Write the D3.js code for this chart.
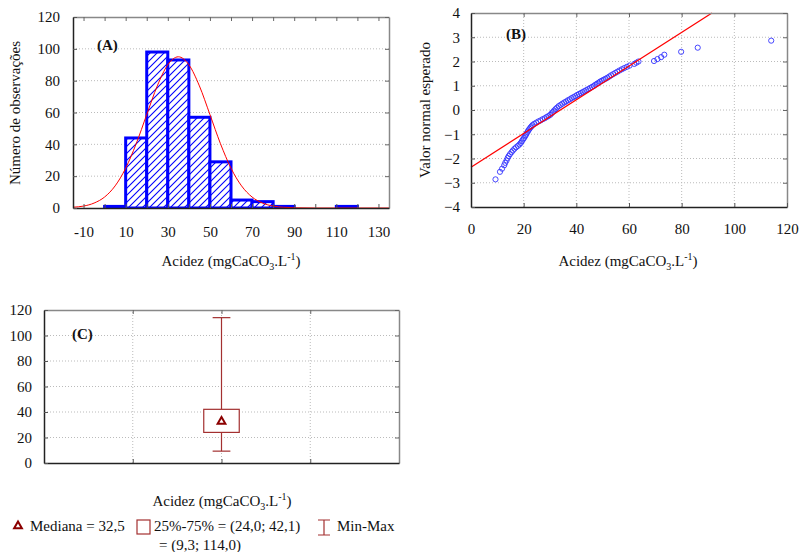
<!doctype html>
<html>
<head>
<meta charset="utf-8">
<style>
  body { margin: 0; background: #fff; }
  svg, svg g, svg text { font-family: "Liberation Serif", "Times New Roman", serif; }
  .tick text { font-size: 15px; fill: #111; }
  .grid line { stroke: #bbb; stroke-dasharray: 1,2; }
</style>
</head>
<body>
<svg id="chart" width="802" height="552"></svg>
<script src="https://cdnjs.cloudflare.com/ajax/libs/d3/7.8.5/d3.min.js"></script>
<script>
// ---- panel A: histogram (classes of 10 mgCaCO3/L) ----
var binStart = [0, 10, 20, 30, 40, 50, 60, 70, 80, 90, 100, 110];
var binCount = [1, 44, 98, 93, 57, 29, 5, 4, 1, 0, 0, 1];
// expected normal curve
var curveX = [-15, -10, -5, 0, 5, 10, 15, 20, 25, 30, 35, 40, 45, 50, 55, 60, 65, 70, 75, 80, 85, 90, 100, 135];
var curveY = [0.5, 1.2, 3.1, 6.9, 13.9, 25, 40.4, 58.7, 76.7, 90, 95, 90, 76.7, 58.7, 40.4, 25, 13.9, 6.9, 3.1, 1.2, 0.45, 0.15, 0, 0];
var histXTicks = [-10, 10, 30, 50, 70, 90, 110, 130];
var histYTicks = [0, 20, 40, 60, 80, 100, 120];

// ---- panel B: normal probability plot ----
var qqX = [9.3, 11.0, 11.8, 12.6, 13.0, 13.5, 13.9, 14.3, 14.8, 15.4, 15.9, 16.5, 17.1, 17.8, 18.4, 18.9, 19.3, 19.7, 20.1, 20.5,
           20.8, 21.1, 21.5, 21.8, 22.2, 22.6, 23.0, 23.4, 24.0, 24.8, 25.6, 26.4, 27.2, 28.0, 28.7, 29.4, 30.1, 30.6, 31.1, 31.6,
           32.1, 32.7, 33.3, 34.0, 34.7, 35.4, 36.1, 36.8, 37.5, 38.2, 38.9, 39.6, 40.3, 41.0, 41.7, 42.4, 43.1, 43.8, 44.5, 45.2,
           45.9, 46.6, 47.2, 47.8, 48.4, 49.0, 49.7, 50.4, 51.1, 51.8, 52.5, 53.2, 54.0, 54.8, 55.6, 56.4, 57.3, 58.2, 59.2, 60.2,
           62.0, 62.8, 63.6, 69.5, 70.8, 72.2, 73.4, 79.8, 86.1, 114.0];
var qqZ = [-2.86, -2.55, -2.42, -2.28, -2.18, -2.08, -1.98, -1.90, -1.82, -1.74, -1.67, -1.60, -1.54, -1.48, -1.42, -1.36, -1.29, -1.22, -1.16, -1.09,
           -1.03, -0.97, -0.90, -0.84, -0.78, -0.72, -0.67, -0.62, -0.57, -0.52, -0.47, -0.43, -0.38, -0.34, -0.29, -0.25, -0.20, -0.14, -0.08, -0.02,
           0.04, 0.10, 0.16, 0.21, 0.26, 0.31, 0.35, 0.40, 0.44, 0.49, 0.53, 0.57, 0.62, 0.66, 0.70, 0.74, 0.78, 0.82, 0.86, 0.90,
           0.95, 0.99, 1.04, 1.08, 1.12, 1.17, 1.21, 1.25, 1.29, 1.33, 1.38, 1.43, 1.48, 1.53, 1.58, 1.63, 1.68, 1.73, 1.78, 1.83,
           1.90, 1.95, 2.00, 2.02, 2.10, 2.18, 2.28, 2.40, 2.57, 2.86];
var qqLineX = [0, 91.5];
var qqLineZ = [-2.36, 4];
var qqXTicks = [0, 20, 40, 60, 80, 100, 120];
var qqYTicks = [-4, -3, -2, -1, 0, 1, 2, 3, 4];

// ---- panel C: box plot ----
var boxMedian = 32.5;
var boxQ1 = 24.0, boxQ3 = 42.1;
var boxMin = 9.3, boxMax = 114.0;
var boxYTicks = [0, 20, 40, 60, 80, 100, 120];
var legendLabels = ["Mediana = 32,5", "25%-75% = (24,0; 42,1)", "Min-Max", "= (9,3; 114,0)"];

var svg = d3.select("#chart");
var blue = "#0000ff", red = "#ff0000", brick = "#a33030";
var serif = "'Liberation Serif', 'Times New Roman', serif";

var defs = svg.append("defs");
var pat = defs.append("pattern").attr("id", "hatch").attr("patternUnits", "userSpaceOnUse")
  .attr("width", 7).attr("height", 7);
pat.append("rect").attr("width", 7).attr("height", 7).attr("fill", "#fff");
pat.append("path").attr("d", "M0,7 L7,0 M-2,2 L2,-2 M5,9 L9,5")
  .attr("stroke", blue).attr("stroke-width", 1.1);
defs.append("clipPath").attr("id", "clipA").append("rect")
  .attr("x", 60).attr("y", 10).attr("width", 340).attr("height", 198);

function frame(g, x, y, opt) {
  var x0 = x.range()[0], x1 = x.range()[1], y0 = y.range()[0], y1 = y.range()[1];
  var grid = g.append("g").attr("class", "grid");
  grid.selectAll(".gh").data(opt.gridY).enter().append("line")
    .attr("x1", x0).attr("x2", x1).attr("y1", d => y(d)).attr("y2", d => y(d));
  grid.selectAll(".gv").data(opt.gridX).enter().append("line")
    .attr("x1", d => x(d)).attr("x2", d => x(d)).attr("y1", y0).attr("y2", y1);
}

function axes(g, x, y, opt) {
  var x0 = x.range()[0], x1 = x.range()[1], y0 = y.range()[0], y1 = y.range()[1];
  var top = g.append("g").attr("transform", "translate(0," + y1 + ")")
    .call(d3.axisTop(x).tickValues(opt.tickX).tickSizeInner(-4).tickSizeOuter(0).tickFormat(""));
  var right = g.append("g").attr("transform", "translate(" + x1 + ",0)")
    .call(d3.axisRight(y).tickValues(opt.tickY).tickSizeInner(-4).tickSizeOuter(0).tickFormat(""));
  [top, right].forEach(function (a) {
    a.select(".domain").attr("stroke", "#888").attr("stroke-width", 1.5);
    a.selectAll(".tick line").attr("stroke", "#666");
  });
  var bottom = g.append("g").attr("transform", "translate(0," + y0 + ")")
    .call(d3.axisBottom(x).tickValues(opt.tickX).tickSizeInner(-4).tickSizeOuter(0)
      .tickPadding(opt.padX).tickFormat(d => opt.labelX.indexOf(d) >= 0 ? d : ""));
  var left = g.append("g").attr("transform", "translate(" + x0 + ",0)")
    .call(d3.axisLeft(y).tickValues(opt.tickY).tickSizeInner(-4).tickSizeOuter(0)
      .tickPadding(opt.padY));
  [bottom, left].forEach(function (a) {
    a.attr("font-family", serif).attr("font-size", 15);
    a.select(".domain").attr("stroke", "#222").attr("stroke-width", 1.5);
    a.selectAll(".tick line").attr("stroke", "#555");
  });
}

function xTitle(g, cx, by) {
  var t = g.append("text").attr("x", cx).attr("y", by).attr("text-anchor", "middle")
    .attr("font-size", 15).attr("fill", "#111");
  t.append("tspan").text("Acidez (mgCaCO");
  t.append("tspan").attr("font-size", 10).attr("dy", 4).text("3");
  t.append("tspan").attr("dy", -4).text(".L");
  t.append("tspan").attr("font-size", 10).attr("dy", -6).text("-1");
  t.append("tspan").attr("dy", 6).text(")");
}

function yTitle(g, cx, cy, label) {
  g.append("text").attr("transform", "translate(" + cx + "," + cy + ") rotate(-90)")
    .attr("text-anchor", "middle").attr("font-size", 15).attr("fill", "#111").text(label);
}

function tag(g, x, y, label) {
  g.append("text").attr("x", x).attr("y", y).attr("font-size", 15).attr("font-weight", "bold")
    .attr("fill", "#111").text(label);
}

// ================= Panel A =================
(function () {
  var g = svg.append("g");
  var x = d3.scaleLinear().domain([-15, 135]).range([73, 389]);
  var y = d3.scaleLinear().domain([0, 120]).range([208, 17]);
  frame(g, x, y, { gridY: [20, 40, 60, 80, 100], gridX: [] });
  var bars = binStart.map((s, i) => ({ s: s, n: binCount[i] })).filter(d => d.n > 0);
  g.append("g").attr("clip-path", "url(#clipA)")
    .selectAll(".bar").data(bars).enter().append("rect")
    .attr("x", d => x(d.s)).attr("width", d => x(d.s + 10) - x(d.s))
    .attr("y", d => y(d.n)).attr("height", d => y(0) - y(d.n))
    .attr("fill", "url(#hatch)").attr("stroke", blue).attr("stroke-width", 3);
  var line = d3.line().x(d => x(d[0])).y(d => y(d[1])).curve(d3.curveMonotoneX);
  g.append("path").datum(curveX.map((v, i) => [v, curveY[i]]))
    .attr("d", line).attr("fill", "none").attr("stroke", red).attr("stroke-width", 1);
  var ticks = d3.range(-10, 131, 10);
  axes(g, x, y, { tickX: ticks, labelX: histXTicks, tickY: histYTicks, padX: 18, padY: 13 });
  tag(g, 97, 50, "(A)");
  yTitle(g, 20, 113, "Número de observações");
  xTitle(g, 231, 266);
})();

// ================= Panel B =================
(function () {
  var g = svg.append("g");
  var x = d3.scaleLinear().domain([0, 120]).range([471, 787]);
  var y = d3.scaleLinear().domain([-4, 4]).range([207, 13]);
  frame(g, x, y, { gridY: [-3, -2, -1, 0, 1, 2, 3], gridX: [20, 40, 60, 80, 100] });
  g.selectAll(".pt").data(qqX.map((v, i) => [v, qqZ[i]])).enter().append("circle")
    .attr("cx", d => x(d[0])).attr("cy", d => y(d[1])).attr("r", 2.6)
    .attr("fill", "none").attr("stroke", "#3333ff").attr("stroke-width", 0.9);
  g.append("line")
    .attr("x1", x(qqLineX[0])).attr("y1", y(qqLineZ[0]))
    .attr("x2", x(qqLineX[1])).attr("y2", y(qqLineZ[1]))
    .attr("stroke", red).attr("stroke-width", 1.2);
  axes(g, x, y, { tickX: qqXTicks, labelX: qqXTicks, tickY: qqYTicks, padX: 16, padY: 11 });
  tag(g, 506, 39, "(B)");
  yTitle(g, 430, 110, "Valor normal esperado");
  xTitle(g, 628, 266);
})();

// ================= Panel C =================
(function () {
  var g = svg.append("g");
  var x = d3.scaleLinear().domain([0, 4]).range([44, 399]);
  var y = d3.scaleLinear().domain([0, 120]).range([463, 310]);
  frame(g, x, y, { gridY: [20, 40, 60, 80, 100], gridX: [1, 2, 3] });
  var c = 2;
  g.append("line").attr("x1", x(c)).attr("x2", x(c)).attr("y1", y(boxMin)).attr("y2", y(boxQ1))
    .attr("stroke", brick).attr("stroke-width", 1.2);
  g.append("line").attr("x1", x(c)).attr("x2", x(c)).attr("y1", y(boxQ3)).attr("y2", y(boxMax))
    .attr("stroke", brick).attr("stroke-width", 1.2);
  [boxMin, boxMax].forEach(function (v) {
    g.append("line").attr("x1", x(c - 0.1)).attr("x2", x(c + 0.1)).attr("y1", y(v)).attr("y2", y(v))
      .attr("stroke", brick).attr("stroke-width", 1.2);
  });
  g.append("rect").attr("x", x(c - 0.2)).attr("width", x(c + 0.2) - x(c - 0.2))
    .attr("y", y(boxQ3)).attr("height", y(boxQ1) - y(boxQ3))
    .attr("fill", "#fff").attr("stroke", brick).attr("stroke-width", 1.2);
  var tri = d3.symbol().type(d3.symbolTriangle).size(26);
  g.append("path").attr("d", tri()).attr("transform", "translate(" + x(c) + "," + y(boxMedian) + ")")
    .attr("fill", "#fff").attr("stroke", "#8b0000").attr("stroke-width", 2);
  axes(g, x, y, { tickX: [1, 2, 3], labelX: [], tickY: boxYTicks, padX: 10, padY: 12 });
  tag(g, 72, 339, "(C)");
  xTitle(g, 222, 506);

  // legend
  var lg = g.append("g").attr("font-size", 15).attr("fill", "#111");
  lg.append("path").attr("d", tri()).attr("transform", "translate(18,526)")
    .attr("fill", "#fff").attr("stroke", "#8b0000").attr("stroke-width", 2);
  lg.append("text").attr("x", 30).attr("y", 531).text(legendLabels[0]);
  lg.append("rect").attr("x", 137).attr("y", 520).attr("width", 13).attr("height", 14)
    .attr("fill", "none").attr("stroke", brick).attr("stroke-width", 1.2);
  lg.append("text").attr("x", 154).attr("y", 531).text(legendLabels[1]);
  lg.append("path").attr("d", "M318,520 H330 M324,520 V535 M318,535 H330")
    .attr("stroke", brick).attr("stroke-width", 1.2).attr("fill", "none");
  lg.append("text").attr("x", 337).attr("y", 531).text(legendLabels[2]);
  lg.append("text").attr("x", 159).attr("y", 550).text(legendLabels[3]);
})();
</script>
</body>
</html>
